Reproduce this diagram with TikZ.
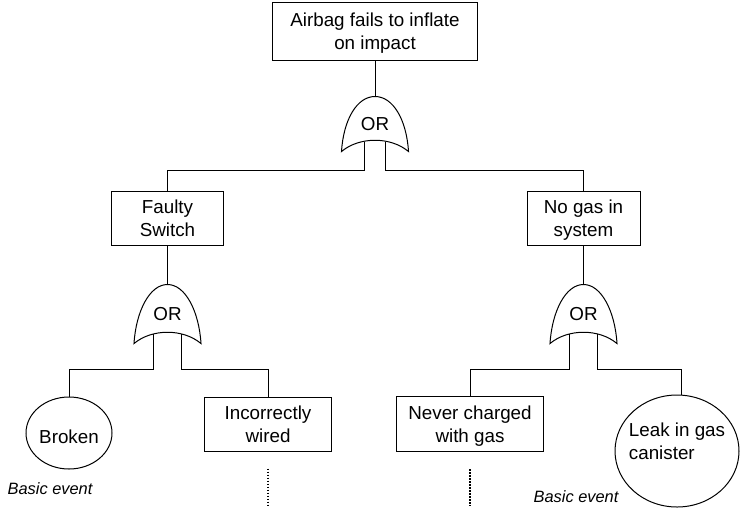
\documentclass[tikz,border=0pt]{standalone}
\usepackage{fontspec}
\setmainfont{Liberation Sans}
\usetikzlibrary{shapes.geometric, calc}

\begin{document}
\begin{tikzpicture}[x=1pt, y=1pt, line width=1pt,
		font=\fontsize{18.8}{22.5}\selectfont,
		lower/.style={execute at begin node={\rule{0pt}{21.5pt}}},
		event/.style={rectangle, draw, align=center, inner sep=0pt, text depth=-3pt},
		basic/.style={ellipse, draw, inner sep=0pt},
		gate/.style={inner sep=0pt, minimum width=66pt, minimum height=58pt},
		note/.style={font=\fontsize{16.4}{19}\selectfont\itshape},
		undev/.style={dash pattern=on 1.5pt off 1.5pt, line width=1.3pt}]
		\useasboundingbox (0,0) rectangle (751,-509);

		% top event and first gate
		\node [event, minimum width=205pt, minimum height=58pt] (airbag) at (375,-31) {Airbag fails to inflate\\on impact};
		\node [gate, minimum height=54pt] (g1) at (375,-124) {OR};

		% intermediate events
		\node [event, minimum width=112pt, minimum height=54pt] (faulty) at (167.5,-218) {Faulty\\Switch};
		\node [event, minimum width=113pt, minimum height=54pt] (nogas) at (583.5,-218) {No gas in\\system};
		\node [gate] (g2) at (167.5,-314) {OR};
		\node [gate] (g3) at (583.5,-314) {OR};

		% bottom events
		\node [basic, lower, minimum width=86pt, minimum height=72pt] (broken) at (69,-433) {Broken};
		\node [event, minimum width=127pt, minimum height=54pt] (wired) at (268,-424) {Incorrectly\\wired};
		\node [event, minimum width=147pt, minimum height=55pt] (never) at (470,-424) {Never charged\\with gas};
		\node [basic, minimum width=124pt, minimum height=112pt,
			label={[align=left, yshift=9.5pt]center:{Leak in gas\\canister}}] (leak) at (677,-451) {};

		\node [note] (note1) at (50,-489) {Basic event};
		\node [note] (note2) at (576,-497) {Basic event};

		% gate outlines
		\foreach \g in {g1,g2,g3}
			\draw (\g.south west) .. controls +(2,32) and +(-18,0) .. (\g.north)
				.. controls +(18,0) and +(-2,32) .. (\g.south east)
				.. controls +(-18,15) and +(18,15) .. (\g.south west) -- cycle;

		% connections
		\draw (airbag.south) -- (g1.north);
		\draw ([xshift=-11pt, yshift=10pt]g1.south) -- ([xshift=-11pt, yshift=-19pt]g1.south) -| (faulty.north);
		\draw ([xshift=10pt, yshift=10pt]g1.south) -- ([xshift=10pt, yshift=-19pt]g1.south) -| (nogas.north);

		\draw (faulty.south) -- (g2.north);
		\draw (nogas.south) -- (g3.north);

		\draw ([xshift=-14pt, yshift=9.5pt]g2.south) -- ([xshift=-14pt, yshift=-26pt]g2.south) -| (broken.north);
		\draw ([xshift=14pt, yshift=9.5pt]g2.south) -- ([xshift=14pt, yshift=-26pt]g2.south) -| (wired.north);
		\draw ([xshift=-14pt, yshift=9.5pt]g3.south) -- ([xshift=-14pt, yshift=-26pt]g3.south) -| (never.north);
		\draw ([xshift=14pt, yshift=9.5pt]g3.south) -- ([xshift=14pt, yshift=-26pt]g3.south) -| (leak.85);

		% undeveloped branches
		\coordinate (wiredend) at ([yshift=-54pt]wired.south);
		\coordinate (neverend) at ([yshift=-54pt]never.south);
		\draw [undev] ([yshift=-17pt]wired.south) -- (wiredend);
		\draw [undev] ([yshift=-17pt]never.south) -- (neverend);
	\end{tikzpicture}
\end{document}
